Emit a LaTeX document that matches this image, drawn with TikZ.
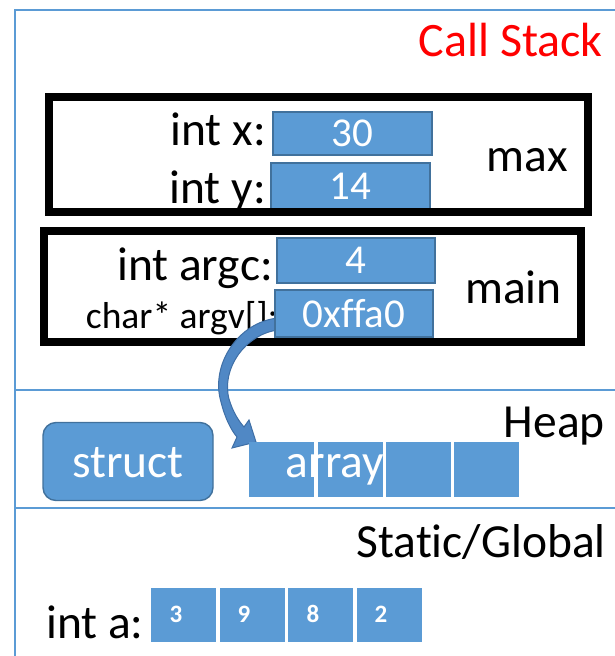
\documentclass[tikz,border=0pt]{standalone}
\usepackage{fontspec}
\setmainfont[Ligatures={NoCommon}]{Carlito}
\definecolor{cellblue}{HTML}{5B9BD5}
\definecolor{celledge}{HTML}{41719C}
\definecolor{rule}{HTML}{5B9BD5}
\definecolor{arrowfill}{HTML}{5088C5}
\definecolor{arrowedge}{HTML}{3F6FA6}
\begin{document}
\begin{tikzpicture}[x=1pt,y=-1pt,
  big/.style={font=\fontsize{47.5}{50}\selectfont},
  lbl/.style={big,inner sep=0pt,anchor=base east},
  valbox/.style={draw=celledge,line width=1.4pt,fill=cellblue,text=white,
    inner sep=0pt,font=\fontsize{41}{44}\selectfont},
  cell/.style={fill=cellblue,inner sep=0pt,minimum width=65,minimum height=55},
  gcell/.style={fill=cellblue,inner sep=0pt,minimum width=65,minimum height=54},
  digit/.style={text=white,inner sep=0pt,font=\fontsize{25}{26}\selectfont\bfseries},
  frame/.style={draw=black,line width=8pt},
  sep/.style={draw=rule,line width=1.3pt}]
\useasboundingbox (0,0) rectangle (615,656);

% memory region outline and separators
\draw[draw=rule,line width=2.4pt] (15,660) -- (15,10) -- (620,10);
\draw[sep] (15,390) -- (620,390);
\draw[sep] (15,508) -- (620,508);

% section titles
\node[lbl,text=red,font=\fontsize{48}{50}\selectfont] (cs) at (603,56) {Call Stack};
\node[lbl] (heap) at (605,437) {Heap};
\node[lbl] (sg) at (606,557) {Static/Global};

% frame of max()
\node[valbox,minimum width=159,minimum height=43] (xv) at (352.5,133.5) {30};
\node[valbox,minimum width=159,minimum height=46] (yv) at (350.5,186) {14};
\node[lbl] (xl) at (266,145) {int x:};
\node[lbl] (yl) at (266,203) {int y:};
\node[lbl] (maxl) at (568,171) {max};
\draw[frame] (49,97) rectangle (588,212);

% frame of main()
\node[valbox,minimum width=158,minimum height=45] (argc) at (356,260.5) {4};
\node[lbl] (argcl) at (273,280) {int argc:};
\node[lbl,font=\fontsize{37.5}{40}\selectfont] (argvl) at (278,328) {char* argv[]:};
\node[lbl] (mainl) at (562,303) {main};
\draw[frame] (44,231) rectangle (581,342);

% curved block arrow from argv to the heap array
\filldraw[fill=arrowfill,draw=arrowedge,line width=1pt]
  (278,318) .. controls (238,322) and (210,365) .. (221,402)
  .. controls (225,418) and (231,430) .. (237,437)
  -- (232,448) -- (256,442) -- (249,420) -- (244,427)
  .. controls (238,420) and (233,412) .. (229,399)
  .. controls (221,368) and (246,334) .. (278,330) -- cycle;
\node[valbox,minimum width=158,minimum height=47] (argv) at (354,313.5) {0xffa0};

% heap objects
\node[draw=celledge,line width=1.4pt,fill=cellblue,rounded corners=13pt,
  minimum width=170,minimum height=78,inner sep=0pt] (st) at (128,461.5) {};
\node[big,text=white,inner sep=0pt,anchor=base] (stl) at (128,477) {struct};
\node[cell] (a1) at (281.5,469.5) {};
\node[cell] (a2) at (350.5,469.5) {};
\node[cell] (a3) at (418.5,469.5) {};
\node[cell] (a4) at (486.5,469.5) {};
\node[big,text=white,inner sep=0pt,anchor=base] (arr) at (335,477) {array};

% global array
\node[big,inner sep=0pt,anchor=base west] (al) at (46,638) {int a:};
\node[gcell] (g1) at (183.5,615) {};
\node[gcell] (g2) at (252,615) {};
\node[gcell] (g3) at (320.5,615) {};
\node[gcell] (g4) at (389,615) {};
\node[digit] (d1) at (176,614) {3};
\node[digit] (d2) at (244,614) {9};
\node[digit] (d3) at (313,614) {8};
\node[digit] (d4) at (381,614) {2};
\end{tikzpicture}
\end{document}
